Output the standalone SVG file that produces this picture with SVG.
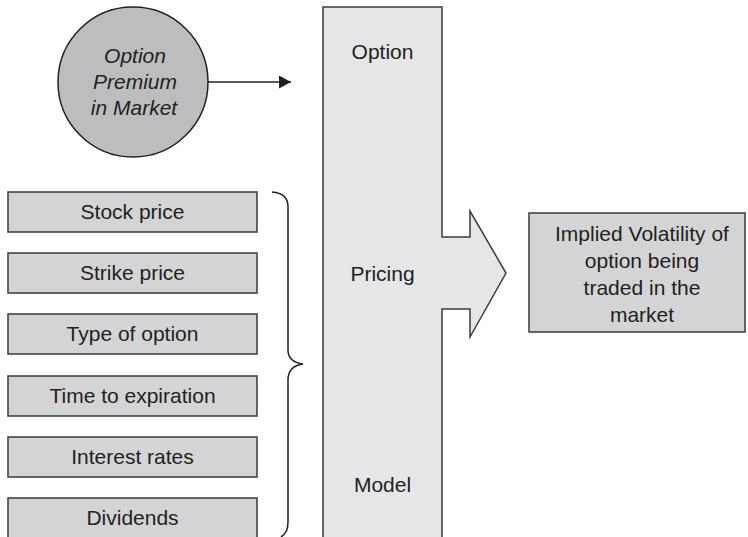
<svg xmlns="http://www.w3.org/2000/svg" width="748" height="537" viewBox="0 0 748 537">
<style>
text{font-family:"Liberation Sans",Arial,sans-serif;font-size:21px;fill:#231f20;text-anchor:middle}
.it{font-style:italic}
.box{fill:#d4d4d6;stroke:#3a3a3a;stroke-width:1.5}
.ln{fill:none;stroke:#231f20;stroke-width:1.5}
</style>
<defs>
<marker id="ah" markerWidth="12" markerHeight="13" refX="12" refY="6.5" orient="auto" markerUnits="userSpaceOnUse">
<path d="M0,0 L12,6.5 L0,13 Z" fill="#231f20"/>
</marker>
</defs>
<g id="model">
<path d="M323,7 H442 V237 H470 V211 L506,273 L470,337 V309 H442 V540 H323 Z" fill="#e5e6e8" stroke="#3a3a3a" stroke-width="1.5"/>
<text x="382.5" y="59">Option</text>
<text x="382.5" y="281">Pricing</text>
<text x="382.5" y="492">Model</text>
</g>
<g id="premium">
<circle cx="133" cy="82" r="75" fill="#bdbdc0" stroke="#231f20" stroke-width="1.5"/>
<text class="it" x="135" y="63">Option</text>
<text class="it" x="135" y="89">Premium</text>
<text class="it" x="134" y="115">in Market</text>
</g>
<g id="stock"><rect class="box" x="8" y="192" width="249" height="40"/><text x="132.5" y="219">Stock price</text></g>
<g id="strike"><rect class="box" x="8" y="253" width="249" height="40"/><text x="132.5" y="280">Strike price</text></g>
<g id="type"><rect class="box" x="8" y="314" width="249" height="40"/><text x="132.5" y="341">Type of option</text></g>
<g id="time"><rect class="box" x="8" y="376" width="249" height="40"/><text x="132.5" y="403">Time to expiration</text></g>
<g id="interest"><rect class="box" x="8" y="437" width="249" height="40"/><text x="132.5" y="464">Interest rates</text></g>
<g id="dividends"><rect class="box" x="8" y="498" width="249" height="40"/><text x="132.5" y="525">Dividends</text></g>
<g id="implied">
<rect class="box" x="529" y="213" width="216" height="119"/>
<text x="642" y="241">Implied Volatility of</text>
<text x="642" y="268">option being</text>
<text x="642" y="295">traded in the</text>
<text x="642" y="322">market</text>
</g>
<g id="connectors">
<line class="ln" x1="208" y1="82" x2="291" y2="82" marker-end="url(#ah)"/>
<path class="ln" d="M272,192 Q288,193 288,207 V350 Q288,362 303,364 Q288,366 288,380 V522 Q288,533 281,537"/>
</g>
</svg>
